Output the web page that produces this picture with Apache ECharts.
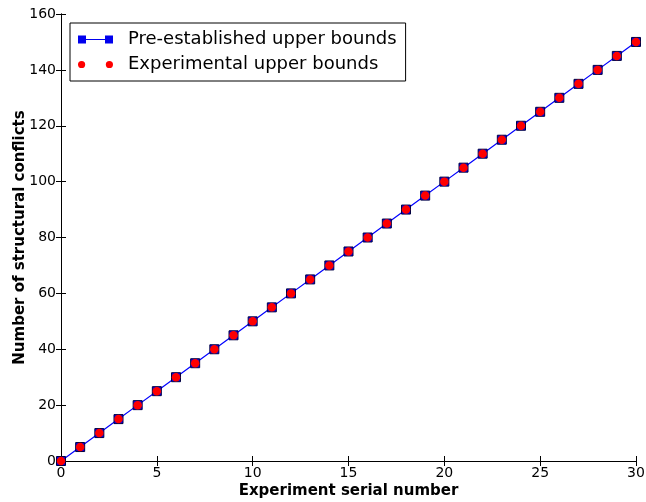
<!DOCTYPE html>
<html>
<head>
<meta charset="utf-8">
<script src="https://cdn.jsdelivr.net/npm/echarts@6/dist/echarts.min.js"></script>
<style>
html,body{margin:0;padding:0;background:#fff;}
#chart{width:646px;height:502px;}
</style>
</head>
<body>
<div id="chart"></div>
<script>
// experiment serial numbers and bounds
var serials = [0,1,2,3,4,5,6,7,8,9,10,11,12,13,14,15,16,17,18,19,20,21,22,23,24,25,26,27,28,29,30];
var preBounds = [0,5,10,15,20,25,30,35,40,45,50,55,60,65,70,75,80,85,90,95,100,105,110,115,120,125,130,135,140,145,150];
var expBounds = [0,5,10,15,20,25,30,35,40,45,50,55,60,65,70,75,80,85,90,95,100,105,110,115,120,125,130,135,140,145,150];

var myChart = echarts.init(document.getElementById('chart'));
var font = 'DejaVu Sans';

var option = {
	animation: false,
	textStyle: { fontFamily: font },
	grid: { left: 61, right: 10, top: 14, bottom: 41, containLabel: false, outerBoundsMode: 'none' },
	legend: {
		orient: 'vertical',
		left: 70,
		top: 23,
		padding: [6, 9, 6, 8],
		itemGap: 4,
		itemWidth: 35,
		itemHeight: 8,
		borderColor: '#000',
		borderWidth: 1,
		backgroundColor: '#fff',
		textStyle: { fontFamily: font, fontSize: 18, color: '#000', padding: [0, 0, 0, 10], lineHeight: 21 },
		data: [
			{ name: 'Pre-established upper bounds', icon: 'path://M0,0h8v8h-8z M8,3.5h19v1h-19z M27,0h8v8h-8z', itemStyle: { color: '#0000ee', borderWidth: 0 } },
			{ name: 'Experimental upper bounds', icon: 'path://M0.5,4a3.5,3.5 0 1,0 7,0a3.5,3.5 0 1,0 -7,0z M27.5,4a3.5,3.5 0 1,0 7,0a3.5,3.5 0 1,0 -7,0z' }
		]
	},
	xAxis: [
		{
			type: 'value', min: 0, max: 30, interval: 5,
			name: 'Experiment serial number', nameLocation: 'middle', nameGap: 23, nameMoveOverlap: false,
			nameTextStyle: { fontFamily: font, fontWeight: 'bold', fontSize: 15, color: '#000' },
			axisLine: { lineStyle: { color: '#000', width: 1 } },
			axisTick: { inside: true, length: 5, lineStyle: { color: '#000' } },
			axisLabel: { fontFamily: font, fontSize: 14, color: '#000', margin: 5 },
			splitLine: { show: false }
		},
		{
			type: 'value', min: 0, max: 30, interval: 5, position: 'top',
			axisLine: { lineStyle: { color: '#000', width: 1 } },
			axisTick: { inside: true, length: 5, lineStyle: { color: '#000' } },
			axisLabel: { show: false },
			splitLine: { show: false }
		}
	],
	yAxis: [
		{
			type: 'value', min: 0, max: 160, interval: 20,
			name: 'Number of structural conflicts', nameLocation: 'middle', nameGap: 33, nameMoveOverlap: false,
			nameTextStyle: { fontFamily: font, fontWeight: 'bold', fontSize: 15, color: '#000' },
			axisLine: { show: true, lineStyle: { color: '#000', width: 1 } },
			axisTick: { show: true, inside: true, length: 5, lineStyle: { color: '#000' } },
			axisLabel: { fontFamily: font, fontSize: 14, color: '#000', margin: 5 },
			splitLine: { show: false }
		},
		{
			type: 'value', min: 0, max: 160, interval: 20, position: 'right',
			axisLine: { show: true, lineStyle: { color: '#000', width: 1 } },
			axisTick: { show: true, inside: true, length: 5, lineStyle: { color: '#000' } },
			axisLabel: { show: false },
			splitLine: { show: false }
		}
	],
	series: [
		{
			name: 'Pre-established upper bounds',
			type: 'line',
			data: serials.map(function (s, i) { return [s, preBounds[i]]; }),
			symbol: 'rect',
			symbolSize: 9,
			showAllSymbol: true,
			clip: false,
			itemStyle: { color: '#0000ee', borderColor: '#000040', borderWidth: 1 },
			lineStyle: { color: '#0000ff', width: 1.2 },
			z: 2
		},
		{
			name: 'Experimental upper bounds',
			type: 'scatter',
			data: serials.map(function (s, i) { return [s, expBounds[i]]; }),
			symbol: 'circle',
			symbolSize: 8.5,
			clip: false,
			itemStyle: { color: '#ff0000', opacity: 1 },
			z: 3
		}
	]
};

myChart.setOption(option);
</script>
</body>
</html>
